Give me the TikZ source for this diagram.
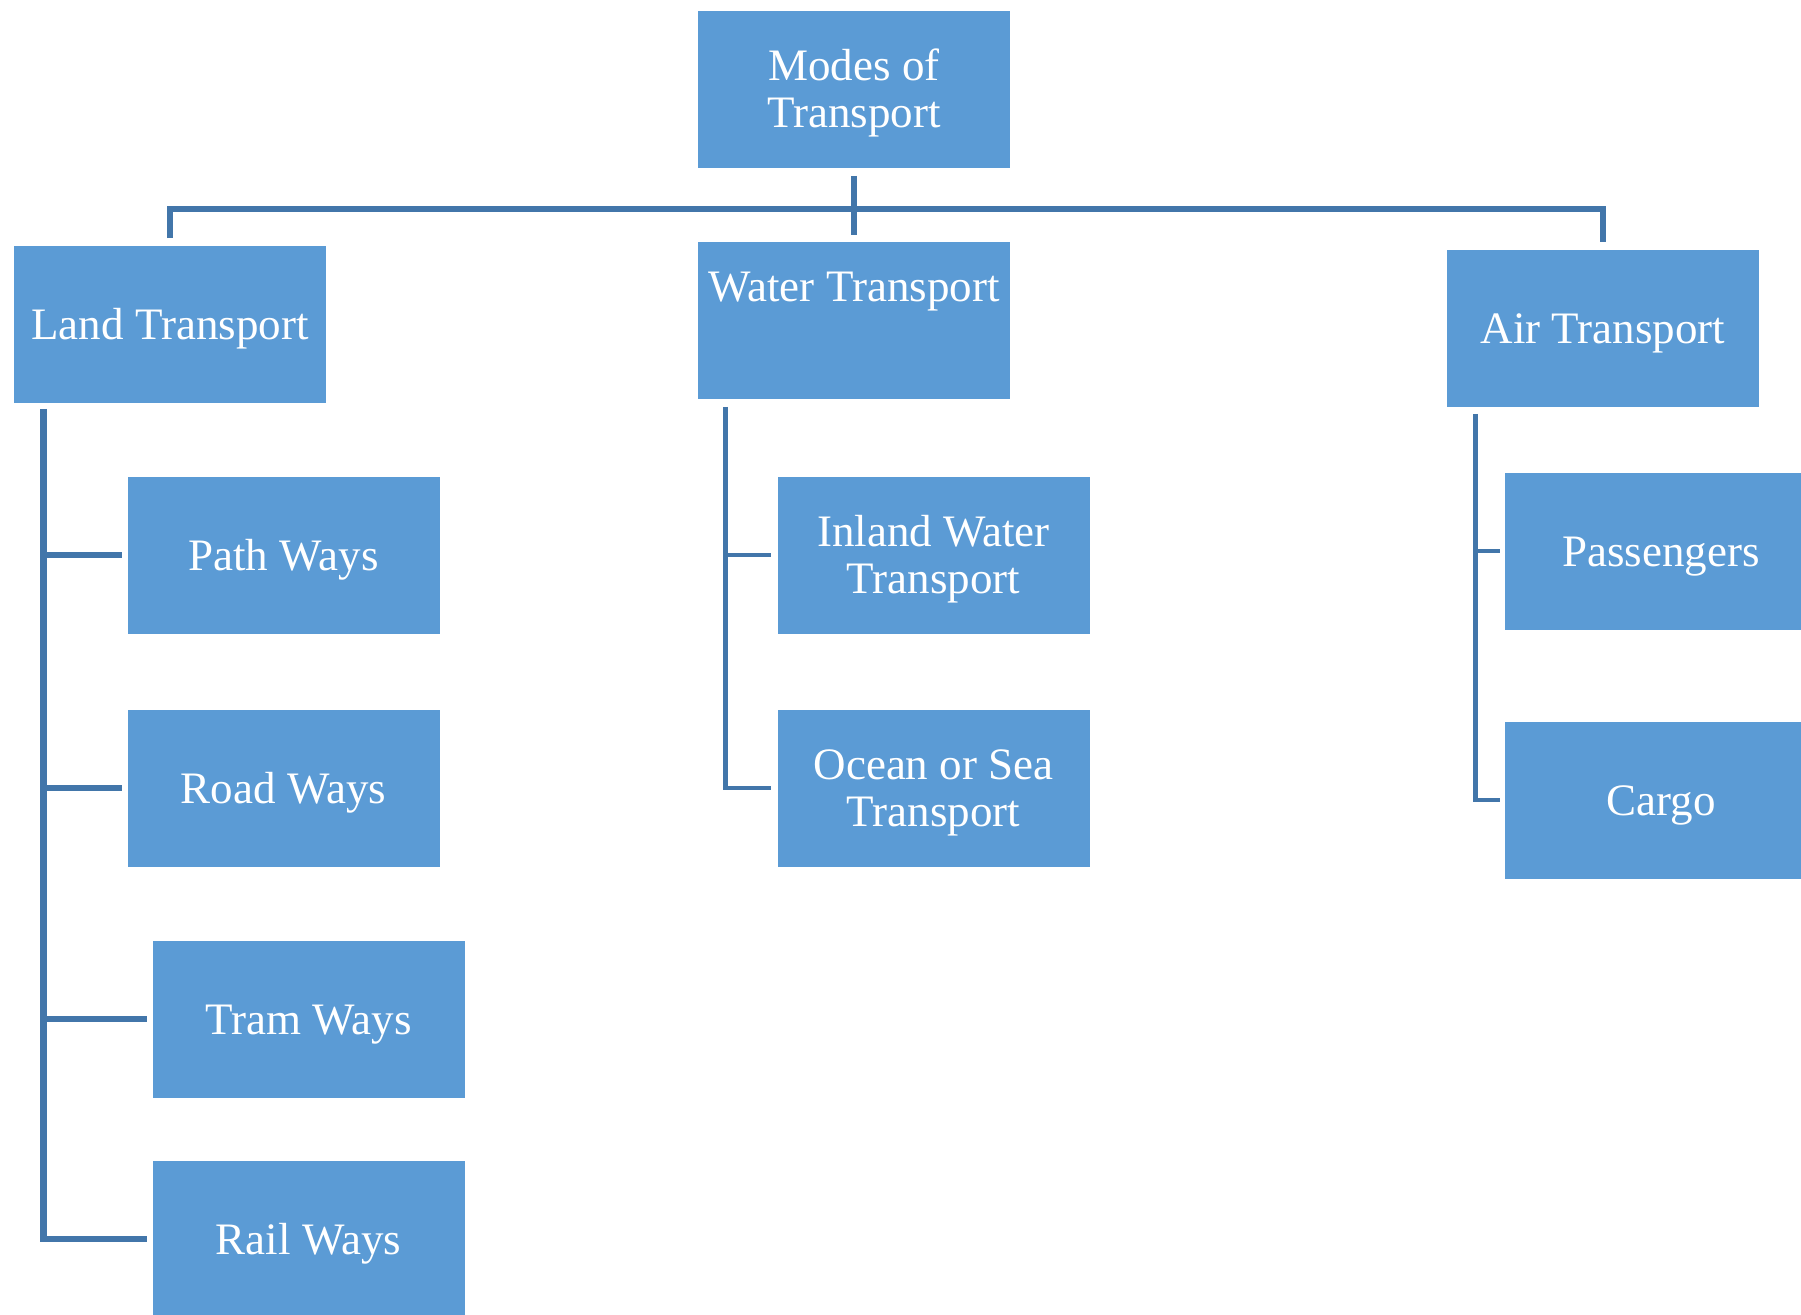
\documentclass[tikz,border=0pt]{standalone}
\usepackage{fontspec}
\setmainfont{Liberation Serif}
\usetikzlibrary{calc}
\definecolor{boxblue}{HTML}{5B9BD5}
\definecolor{linkblue}{HTML}{4276AA}
\newcommand{\boxtxt}[1]{\raisebox{-3pt}[\height][\depth]{\begin{tabular}{@{}c@{}}#1\end{tabular}}}
\begin{document}
\begin{tikzpicture}[x=0.5pt,y=-0.5pt,
  box/.style={rectangle, fill=boxblue, text=white, inner sep=0pt,
    minimum width=156pt, minimum height=78.5pt,
    font=\fontsize{22.5}{23.5}\selectfont},
  conn/.style={draw=linkblue, line width=3.2pt},
  thin/.style={draw=linkblue, line width=2.2pt}]
\useasboundingbox (0,0) rectangle (1801,1314);
\clip (0,0) rectangle (1801,1314);
\fill[white] (0,0) rectangle (1801,1314);
% nodes
\node[box] (root) at (854,89) {\boxtxt{Modes of\\Transport}};
\node[box] (land) at (170,324) {\boxtxt{Land Transport}};
\node[box, minimum height=0pt, text height=29.5pt, text depth=49pt, anchor=north] (water) at (854,242) {Water Transport};
\node[box] (air) at (1603,328) {\boxtxt{Air Transport}};
\node[box] (path) at (283.5,555) {\boxtxt{Path Ways}};
\node[box] (road) at (283.5,788) {\boxtxt{Road Ways}};
\node[box] (tram) at (308.5,1019) {\boxtxt{Tram Ways}};
\node[box] (rail) at (308.5,1239) {\boxtxt{Rail Ways}};
\node[box] (inland) at (933.5,555) {\boxtxt{Inland Water\\Transport}};
\node[box] (ocean) at (933.5,788) {\boxtxt{Ocean or Sea\\Transport}};
\node[box] (pass) at (1661,551) {\boxtxt{Passengers}};
\node[box] (cargo) at (1661,800) {\boxtxt{Cargo}};
% top connectors
\coordinate (hub) at (854,209);
\draw[conn] ([yshift=-4pt]root.south) -- ([yshift=3.5pt]water.north);
\draw[conn] ([yshift=3.5pt]land.north) |- (hub) -| ([yshift=3.5pt]air.north);
% land branch
\coordinate (ls) at ([xshift=15pt,yshift=-3pt]land.south west);
\draw[conn] (ls) |- ([xshift=-2.5pt]rail.west);
\draw[conn] (ls |- path.west) -- ([xshift=-2.5pt]path.west);
\draw[conn] (ls |- road.west) -- ([xshift=-2.5pt]road.west);
\draw[conn] (ls |- tram.west) -- ([xshift=-2.5pt]tram.west);
% water branch
\coordinate (ws) at ([xshift=14pt,yshift=-3.5pt]water.south west);
\draw[thin] (ws) |- ([xshift=-3pt]ocean.west);
\draw[thin] (ws |- inland.west) -- ([xshift=-3pt]inland.west);
% air branch
\coordinate (as) at ([xshift=14.5pt,yshift=-3.5pt]air.south west);
\draw[thin] (as) |- ([xshift=-2.5pt]cargo.west);
\draw[thin] (as |- pass.west) -- ([xshift=-2.5pt]pass.west);
\end{tikzpicture}
\end{document}
